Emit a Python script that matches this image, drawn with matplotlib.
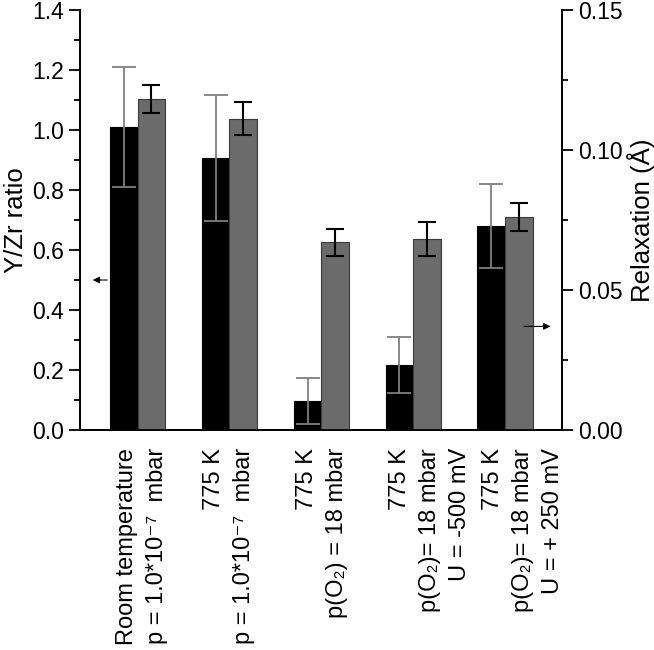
import matplotlib
matplotlib.use('Agg')
import matplotlib.pyplot as plt
import matplotlib.transforms as mtransforms
import numpy as np
from matplotlib.ticker import MultipleLocator

plt.rcParams['font.family'] = ['Liberation Sans', 'DejaVu Sans']

# 데이터
conditions = [
    "Room temperature\np = 1.0*10⁻⁷  mbar",
    "775 K\np = 1.0*10⁻⁷  mbar",
    "775 K\np(O₂) = 18 mbar",
    "775 K\np(O₂)= 18 mbar\nU = -500 mV",
    "775 K\np(O₂)= 18 mbar\nU = + 250 mV",
]
yzr_ratio = [1.01, 0.907, 0.097, 0.216, 0.679]
yzr_err = [0.20, 0.21, 0.076, 0.094, 0.14]
relaxation = [0.1182, 0.1112, 0.0670, 0.0681, 0.0761]
relax_err = [0.0050, 0.0060, 0.0049, 0.0061, 0.0050]

x = np.arange(1, len(conditions) + 1)
w = 0.30
# 라벨 위치 보정 (px)
label_shift = [4, 0, 1, 17, 18]

fig = plt.figure(figsize=(6.54, 6.5), dpi=100)
ax = fig.add_axes([0.1223, 0.3385, 0.737, 0.646])
ax2 = ax.twinx()

ax.bar(x - w / 2, yzr_ratio, w, color='black', edgecolor='black', linewidth=0.8)
ax.errorbar(x - w / 2, yzr_ratio, yerr=yzr_err, fmt='none', ecolor='#7f7f7f',
            elinewidth=1.3, capsize=8.5, capthick=1.3)
ax2.bar(x + w / 2, relaxation, w, color='#6b6b6b', edgecolor='#3a3a3a', linewidth=0.8)
ax2.errorbar(x + w / 2, relaxation, yerr=relax_err, fmt='none', ecolor='black',
             elinewidth=1.5, capsize=6.5, capthick=1.5)

ax.set_xlim(0.373, 5.62)
ax.set_ylim(0, 1.4)
ax2.set_ylim(0, 0.15)

ax.yaxis.set_major_locator(MultipleLocator(0.2))
ax.yaxis.set_minor_locator(MultipleLocator(0.1))
ax.yaxis.set_major_formatter(plt.FuncFormatter(lambda v, p: f"{v:.1f}"))
ax2.yaxis.set_major_locator(MultipleLocator(0.05))
ax2.yaxis.set_minor_locator(MultipleLocator(0.025))
ax2.yaxis.set_major_formatter(plt.FuncFormatter(lambda v, p: f"{v:.2f}"))

for a in (ax, ax2):
    a.spines['top'].set_visible(False)
    for s in a.spines.values():
        s.set_linewidth(1.3)
    a.tick_params(axis='y', which='major', length=8, width=1.3, labelsize=16.5)
    a.tick_params(axis='y', which='minor', length=4.5, width=1.3)

ax.set_xticks(x)
ax.set_xticklabels(conditions, rotation=90, fontsize=17, multialignment='right',
                   linespacing=1.47)
ax.tick_params(axis='x', length=0, pad=13)
for lbl, dx in zip(ax.get_xticklabels(), label_shift):
    lbl.set_transform(lbl.get_transform() +
                      mtransforms.ScaledTranslation(dx / 100, 0, fig.dpi_scale_trans))

ax.set_ylabel('Y/Zr ratio', fontsize=18.5)
ax.yaxis.set_label_coords(-0.107, 0.5)
ax2.set_ylabel('Relaxation (Å)', fontsize=18.5)
ax2.yaxis.set_label_coords(1.134, 0.5)

# 화살표
ax.annotate('', xy=(0.482, 0.5), xytext=(0.70, 0.5),
            arrowprops=dict(arrowstyle='-|>', color='black', lw=0.8, mutation_scale=10))
ax2.annotate('', xy=(5.525, 0.037), xytext=(5.177, 0.037),
             arrowprops=dict(arrowstyle='-|>', color='black', lw=0.8, mutation_scale=10))

fig.savefig('out.png', dpi=100)
